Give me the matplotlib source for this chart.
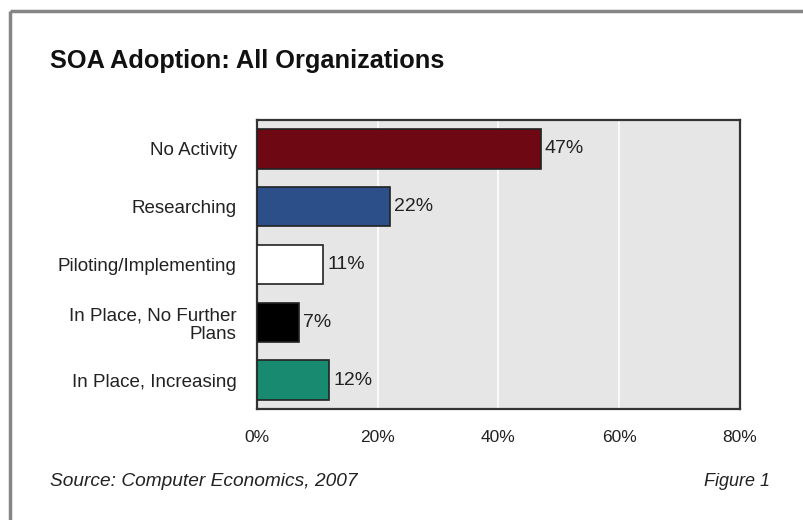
import matplotlib
matplotlib.use("Agg")
import matplotlib.pyplot as plt
from matplotlib.lines import Line2D

categories = ["No Activity", "Researching", "Piloting/Implementing",
              "In Place, No Further\nPlans", "In Place, Increasing"]
values = [47, 22, 11, 7, 12]
colors = ["#6e0914", "#2c4f8a", "#ffffff", "#000000", "#178a70"]
xticks = [0, 20, 40, 60, 80]
xtick_labels = ["0%", "20%", "40%", "60%", "80%"]

plt.rcParams['font.family'] = ['Liberation Sans', 'DejaVu Sans']

W, H = 804, 520
fig = plt.figure(figsize=(W/100, H/100), dpi=100)
fig.patch.set_facecolor("white")

# partial frame (left and top)
fig.add_artist(Line2D([10/W, 10/W], [0, 1 - 11/H], transform=fig.transFigure,
                      color="#858585", lw=2.5, solid_capstyle="butt"))
fig.add_artist(Line2D([10/W, 1], [1 - 11/H, 1 - 11/H], transform=fig.transFigure,
                      color="#858585", lw=2.5, solid_capstyle="butt"))

left, right, top, bottom = 257, 740, 120, 409
ax = fig.add_axes([left/W, 1 - bottom/H, (right-left)/W, (bottom-top)/H])
ax.set_facecolor("#e6e6e6")

y = list(range(len(categories)))
bars = ax.barh(y, values, height=0.68, color=colors, edgecolor="#222222",
               linewidth=1.2, zorder=3)
for yi, v in zip(y, values):
    ax.text(v + 0.7, yi, f"{v}%", va="center", ha="left", fontsize=14,
            color="#222222", zorder=4)

ax.set_xlim(0, 80)
ax.set_ylim(len(categories) - 0.5, -0.5)
ax.set_xticks(xticks)
ax.set_xticklabels(xtick_labels, fontsize=12.5, color="#222222")
ax.set_yticks(y)
ax.set_yticklabels(categories, fontsize=13.5, color="#222222",
                   multialignment="right", linespacing=1.15)
ax.tick_params(axis="both", length=0)
ax.tick_params(axis="x", pad=15)
ax.tick_params(axis="y", pad=14.5)
ax.xaxis.grid(True, color="white", lw=1.2, zorder=1)
ax.set_axisbelow(True)
for s in ax.spines.values():
    s.set_color("#333333")
    s.set_linewidth(1.6)

fig.text(50/W, 1 - 61/H, "SOA Adoption: All Organizations", fontsize=18.3,
         fontweight="bold", ha="left", va="center", color="#111111")
fig.text(50/W, 1 - 482/H, "Source: Computer Economics, 2007", fontsize=13.8,
         style="italic", ha="left", va="center", color="#222222")
fig.text(770/W, 1 - 482/H, "Figure 1", fontsize=13,
         style="italic", ha="right", va="center", color="#222222")

fig.savefig("out.png", dpi=100)
